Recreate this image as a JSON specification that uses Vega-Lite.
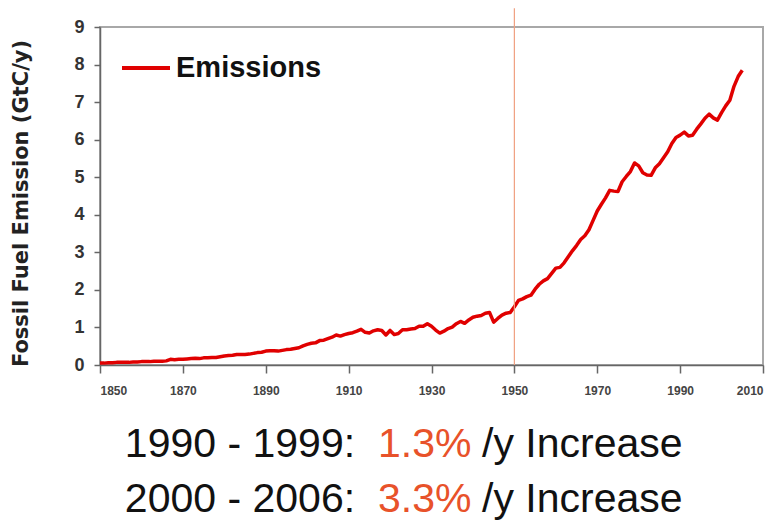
{
  "$schema": "https://vega.github.io/schema/vega-lite/v6.json",
  "width": 663,
  "height": 338,
  "autosize": {"type": "none"},
  "padding": {"left": 100, "top": 27, "right": 16, "bottom": 156},
  "background": "white",
  "config": {
    "view": {"stroke": "#a8a8a8", "strokeWidth": 2},
    "font": "Liberation Sans",
    "axis": {"grid": false, "domainColor": "#666", "domainWidth": 1.5, "tickColor": "#666", "tickWidth": 1.5, "labelOverlap": false},
    "axisX": {"labelFontSize": 12, "labelFontWeight": "bold", "labelColor": "#444", "tickSize": 8, "labelPadding": 12, "labelDx": -6},
    "axisY": {
      "titleFont": "DejaVu Sans", "titleFontSize": 21, "titleFontWeight": "bold", "titleColor": "#222",
      "titleAngle": -90, "titleAlign": "center", "titleBaseline": "middle", "titleX": -79, "titleY": 176,
      "labelFontSize": 18, "labelFontWeight": "bold", "labelColor": "#333", "tickSize": 6, "labelPadding": 10
    }
  },
  "datasets": {
    "emissions": [
      {"year":1850,"value":0.05},{"year":1851,"value":0.05},{"year":1852,"value":0.06},{"year":1853,"value":0.06},{"year":1854,"value":0.07},
      {"year":1855,"value":0.07},{"year":1856,"value":0.07},{"year":1857,"value":0.07},{"year":1858,"value":0.08},{"year":1859,"value":0.08},
      {"year":1860,"value":0.09},{"year":1861,"value":0.09},{"year":1862,"value":0.09},{"year":1863,"value":0.10},{"year":1864,"value":0.10},
      {"year":1865,"value":0.10},{"year":1866,"value":0.11},{"year":1867,"value":0.15},{"year":1868,"value":0.14},{"year":1869,"value":0.15},
      {"year":1870,"value":0.15},{"year":1871,"value":0.16},{"year":1872,"value":0.17},{"year":1873,"value":0.18},{"year":1874,"value":0.17},
      {"year":1875,"value":0.19},{"year":1876,"value":0.19},{"year":1877,"value":0.20},{"year":1878,"value":0.20},{"year":1879,"value":0.22},
      {"year":1880,"value":0.24},{"year":1881,"value":0.25},{"year":1882,"value":0.26},{"year":1883,"value":0.28},{"year":1884,"value":0.28},
      {"year":1885,"value":0.28},{"year":1886,"value":0.29},{"year":1887,"value":0.31},{"year":1888,"value":0.33},{"year":1889,"value":0.34},
      {"year":1890,"value":0.37},{"year":1891,"value":0.38},{"year":1892,"value":0.38},{"year":1893,"value":0.37},{"year":1894,"value":0.39},
      {"year":1895,"value":0.41},{"year":1896,"value":0.42},{"year":1897,"value":0.44},{"year":1898,"value":0.46},{"year":1899,"value":0.51},
      {"year":1900,"value":0.55},{"year":1901,"value":0.58},{"year":1902,"value":0.59},{"year":1903,"value":0.65},{"year":1904,"value":0.66},
      {"year":1905,"value":0.70},{"year":1906,"value":0.74},{"year":1907,"value":0.80},{"year":1908,"value":0.77},{"year":1909,"value":0.81},
      {"year":1910,"value":0.84},{"year":1911,"value":0.86},{"year":1912,"value":0.90},{"year":1913,"value":0.95},{"year":1914,"value":0.87},
      {"year":1915,"value":0.85},{"year":1916,"value":0.91},{"year":1917,"value":0.94},{"year":1918,"value":0.92},{"year":1919,"value":0.80},
      {"year":1920,"value":0.92},{"year":1921,"value":0.81},{"year":1922,"value":0.84},{"year":1923,"value":0.94},{"year":1924,"value":0.94},
      {"year":1925,"value":0.96},{"year":1926,"value":0.97},{"year":1927,"value":1.03},{"year":1928,"value":1.03},{"year":1929,"value":1.10},
      {"year":1930,"value":1.03},{"year":1931,"value":0.93},{"year":1932,"value":0.85},{"year":1933,"value":0.90},{"year":1934,"value":0.97},
      {"year":1935,"value":1.01},{"year":1936,"value":1.10},{"year":1937,"value":1.16},{"year":1938,"value":1.11},{"year":1939,"value":1.20},
      {"year":1940,"value":1.27},{"year":1941,"value":1.30},{"year":1942,"value":1.32},{"year":1943,"value":1.38},{"year":1944,"value":1.40},
      {"year":1945,"value":1.14},{"year":1946,"value":1.24},{"year":1947,"value":1.33},{"year":1948,"value":1.38},{"year":1949,"value":1.40},
      {"year":1950,"value":1.55},{"year":1951,"value":1.72},{"year":1952,"value":1.76},{"year":1953,"value":1.82},{"year":1954,"value":1.86},
      {"year":1955,"value":2.02},{"year":1956,"value":2.15},{"year":1957,"value":2.24},{"year":1958,"value":2.30},{"year":1959,"value":2.44},
      {"year":1960,"value":2.58},{"year":1961,"value":2.60},{"year":1962,"value":2.72},{"year":1963,"value":2.88},{"year":1964,"value":3.04},
      {"year":1965,"value":3.18},{"year":1966,"value":3.34},{"year":1967,"value":3.44},{"year":1968,"value":3.60},{"year":1969,"value":3.85},
      {"year":1970,"value":4.10},{"year":1971,"value":4.28},{"year":1972,"value":4.45},{"year":1973,"value":4.65},{"year":1974,"value":4.63},
      {"year":1975,"value":4.62},{"year":1976,"value":4.88},{"year":1977,"value":5.02},{"year":1978,"value":5.15},{"year":1979,"value":5.38},
      {"year":1980,"value":5.30},{"year":1981,"value":5.12},{"year":1982,"value":5.06},{"year":1983,"value":5.05},{"year":1984,"value":5.25},
      {"year":1985,"value":5.36},{"year":1986,"value":5.52},{"year":1987,"value":5.68},{"year":1988,"value":5.90},{"year":1989,"value":6.06},
      {"year":1990,"value":6.12},{"year":1991,"value":6.20},{"year":1992,"value":6.10},{"year":1993,"value":6.12},{"year":1994,"value":6.28},
      {"year":1995,"value":6.42},{"year":1996,"value":6.57},{"year":1997,"value":6.68},{"year":1998,"value":6.58},{"year":1999,"value":6.52},
      {"year":2000,"value":6.72},{"year":2001,"value":6.90},{"year":2002,"value":7.05},{"year":2003,"value":7.42},{"year":2004,"value":7.68},
      {"year":2005,"value":7.85}
    ]
  },
  "layer": [
    {
      "data": {"name": "emissions"},
      "mark": {"type": "line", "strokeWidth": 3.5, "strokeJoin": "round"},
      "encoding": {
        "x": {
          "field": "year", "type": "quantitative",
          "scale": {"domain": [1850, 2010], "nice": false, "zero": false},
          "axis": {"values": [1850, 1870, 1890, 1910, 1930, 1950, 1970, 1990, 2010], "format": "d", "title": null}
        },
        "y": {
          "field": "value", "type": "quantitative",
          "scale": {"domain": [0, 9], "nice": false},
          "axis": {"values": [0, 1, 2, 3, 4, 5, 6, 7, 8, 9], "title": "Fossil Fuel Emission (GtC/y)"}
        },
        "color": {
          "datum": "Emissions",
          "scale": {"range": ["#e00000"]},
          "legend": {
            "title": null, "orient": "none", "legendX": 20, "legendY": 15, "padding": 0,
            "symbolType": "stroke", "symbolSize": 2304, "symbolStrokeWidth": 4,
            "labelFontSize": 29, "labelFontWeight": "bold", "labelColor": "#111", "labelOffset": 4
          }
        }
      }
    },
    {
      "data": {"values": [{"year": 1950, "bottom": 0, "top": 9.5}]},
      "mark": {"type": "rule", "clip": false, "color": "#f0a080", "strokeWidth": 1.2},
      "encoding": {
        "x": {"field": "year", "type": "quantitative", "axis": {"values": [1850, 1870, 1890, 1910, 1930, 1950, 1970, 1990, 2010], "format": "d", "title": null}},
        "y": {"field": "bottom", "type": "quantitative", "axis": {"values": [0, 1, 2, 3, 4, 5, 6, 7, 8, 9], "title": "Fossil Fuel Emission (GtC/y)"}},
        "y2": {"field": "top"}
      }
    },
    {
      "data": {"values": [{"label": "1990 - 1999:"}]},
      "mark": {"type": "text", "clip": false, "fontSize": 41, "align": "left", "baseline": "alphabetic", "color": "#111"},
      "encoding": {
        "x": {"datum": 1856.0, "type": "quantitative", "axis": {"values": [1850, 1870, 1890, 1910, 1930, 1950, 1970, 1990, 2010], "format": "d", "title": null}},
        "y": {"datum": -2.45, "type": "quantitative", "axis": {"values": [0, 1, 2, 3, 4, 5, 6, 7, 8, 9], "title": "Fossil Fuel Emission (GtC/y)"}},
        "text": {"field": "label"}
      }
    },
    {
      "data": {"values": [{"label": "1.3%"}]},
      "mark": {"type": "text", "clip": false, "fontSize": 41, "align": "left", "baseline": "alphabetic", "color": "#e8522a"},
      "encoding": {
        "x": {"datum": 1917.1, "type": "quantitative", "axis": {"values": [1850, 1870, 1890, 1910, 1930, 1950, 1970, 1990, 2010], "format": "d", "title": null}},
        "y": {"datum": -2.45, "type": "quantitative", "axis": {"values": [0, 1, 2, 3, 4, 5, 6, 7, 8, 9], "title": "Fossil Fuel Emission (GtC/y)"}},
        "text": {"field": "label"}
      }
    },
    {
      "data": {"values": [{"label": "/y Increase"}]},
      "mark": {"type": "text", "clip": false, "fontSize": 41, "align": "left", "baseline": "alphabetic", "color": "#111"},
      "encoding": {
        "x": {"datum": 1942.2, "type": "quantitative", "axis": {"values": [1850, 1870, 1890, 1910, 1930, 1950, 1970, 1990, 2010], "format": "d", "title": null}},
        "y": {"datum": -2.45, "type": "quantitative", "axis": {"values": [0, 1, 2, 3, 4, 5, 6, 7, 8, 9], "title": "Fossil Fuel Emission (GtC/y)"}},
        "text": {"field": "label"}
      }
    },
    {
      "data": {"values": [{"label": "2000 - 2006:"}]},
      "mark": {"type": "text", "clip": false, "fontSize": 41, "align": "left", "baseline": "alphabetic", "color": "#111"},
      "encoding": {
        "x": {"datum": 1856.0, "type": "quantitative", "axis": {"values": [1850, 1870, 1890, 1910, 1930, 1950, 1970, 1990, 2010], "format": "d", "title": null}},
        "y": {"datum": -3.91, "type": "quantitative", "axis": {"values": [0, 1, 2, 3, 4, 5, 6, 7, 8, 9], "title": "Fossil Fuel Emission (GtC/y)"}},
        "text": {"field": "label"}
      }
    },
    {
      "data": {"values": [{"label": "3.3%"}]},
      "mark": {"type": "text", "clip": false, "fontSize": 41, "align": "left", "baseline": "alphabetic", "color": "#e8522a"},
      "encoding": {
        "x": {"datum": 1917.1, "type": "quantitative", "axis": {"values": [1850, 1870, 1890, 1910, 1930, 1950, 1970, 1990, 2010], "format": "d", "title": null}},
        "y": {"datum": -3.91, "type": "quantitative", "axis": {"values": [0, 1, 2, 3, 4, 5, 6, 7, 8, 9], "title": "Fossil Fuel Emission (GtC/y)"}},
        "text": {"field": "label"}
      }
    },
    {
      "data": {"values": [{"label": "/y Increase"}]},
      "mark": {"type": "text", "clip": false, "fontSize": 41, "align": "left", "baseline": "alphabetic", "color": "#111"},
      "encoding": {
        "x": {"datum": 1942.2, "type": "quantitative", "axis": {"values": [1850, 1870, 1890, 1910, 1930, 1950, 1970, 1990, 2010], "format": "d", "title": null}},
        "y": {"datum": -3.91, "type": "quantitative", "axis": {"values": [0, 1, 2, 3, 4, 5, 6, 7, 8, 9], "title": "Fossil Fuel Emission (GtC/y)"}},
        "text": {"field": "label"}
      }
    }
  ]
}
